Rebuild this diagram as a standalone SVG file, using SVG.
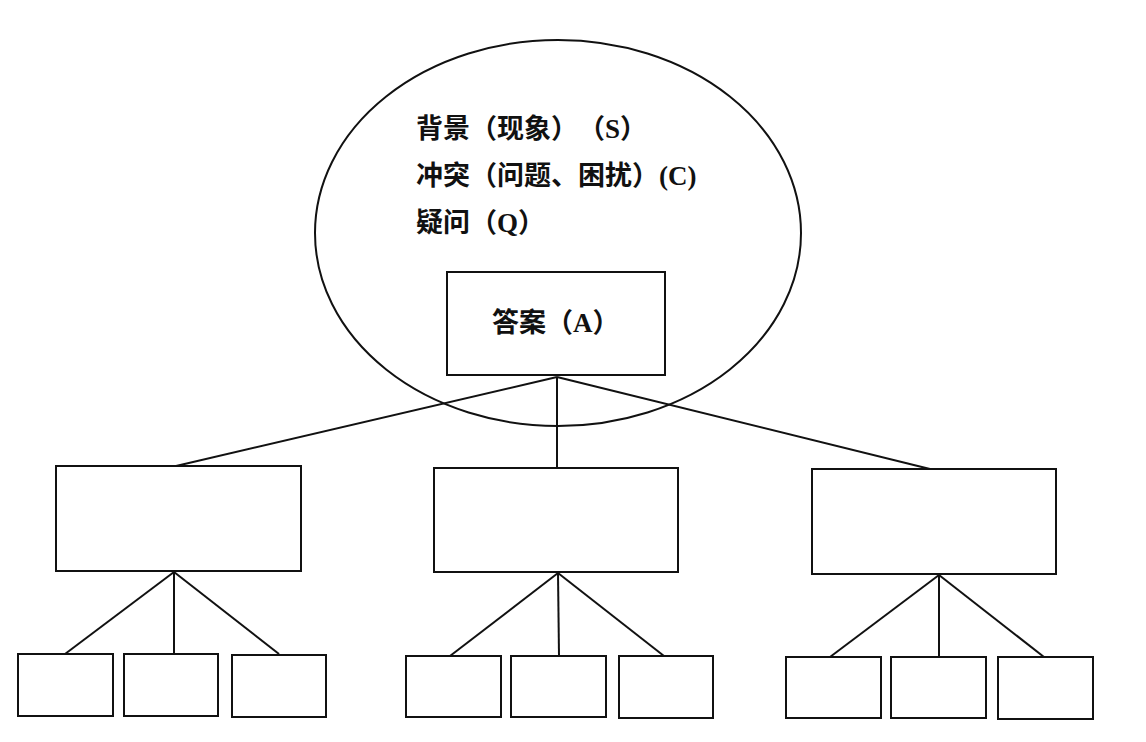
<svg xmlns="http://www.w3.org/2000/svg" width="1146" height="742" viewBox="0 0 1146 742">
<style>
.s{fill:none;stroke:#111;stroke-width:2}
.b{fill:#fff;stroke:#111;stroke-width:2}
.t{font-family:"Liberation Serif","Noto Sans CJK SC",serif;font-size:27px;font-weight:bold;fill:#111;text-spacing-trim:space-all;font-feature-settings:"halt" 0,"chws" 0}
</style>
<rect width="1146" height="742" fill="#fff"/>
<g id="connectors" class="s">
<line x1="557" y1="377" x2="176" y2="466"/>
<line x1="557" y1="377" x2="557" y2="468"/>
<line x1="557" y1="377" x2="930" y2="469"/>
<line x1="174" y1="572" x2="65" y2="654"/>
<line x1="174" y1="572" x2="174" y2="654"/>
<line x1="174" y1="572" x2="279" y2="654"/>
<line x1="558" y1="573" x2="450" y2="656"/>
<line x1="558" y1="573" x2="559" y2="656"/>
<line x1="558" y1="573" x2="664" y2="656"/>
<line x1="939" y1="575" x2="830" y2="657"/>
<line x1="939" y1="575" x2="939" y2="657"/>
<line x1="939" y1="575" x2="1044" y2="657"/>
</g>
<g id="context">
<ellipse class="s" cx="558" cy="233" rx="243" ry="193"/>
<text class="t" x="416" y="138">背景（现象）（S）</text>
<text class="t" x="416" y="185">冲突（问题、困扰）(C)</text>
<text class="t" x="416" y="232">疑问（Q）</text>
</g>
<g id="answer">
<rect class="b" x="447" y="272" width="218" height="103"/>
<text class="t" x="492" y="332">答案（A）</text>
</g>
<g id="n1"><rect class="b" x="56" y="466" width="245" height="105"/></g>
<g id="n2"><rect class="b" x="434" y="468" width="244" height="104"/></g>
<g id="n3"><rect class="b" x="812" y="469" width="244" height="105"/></g>
<g id="n1a"><rect class="b" x="18" y="654" width="95" height="62"/></g>
<g id="n1b"><rect class="b" x="124" y="654" width="94" height="62"/></g>
<g id="n1c"><rect class="b" x="232" y="655" width="94" height="62"/></g>
<g id="n2a"><rect class="b" x="406" y="656" width="95" height="61"/></g>
<g id="n2b"><rect class="b" x="511" y="656" width="95" height="61"/></g>
<g id="n2c"><rect class="b" x="619" y="656" width="94" height="62"/></g>
<g id="n3a"><rect class="b" x="786" y="657" width="95" height="61"/></g>
<g id="n3b"><rect class="b" x="891" y="657" width="95" height="61"/></g>
<g id="n3c"><rect class="b" x="998" y="657" width="95" height="62"/></g>
</svg>
